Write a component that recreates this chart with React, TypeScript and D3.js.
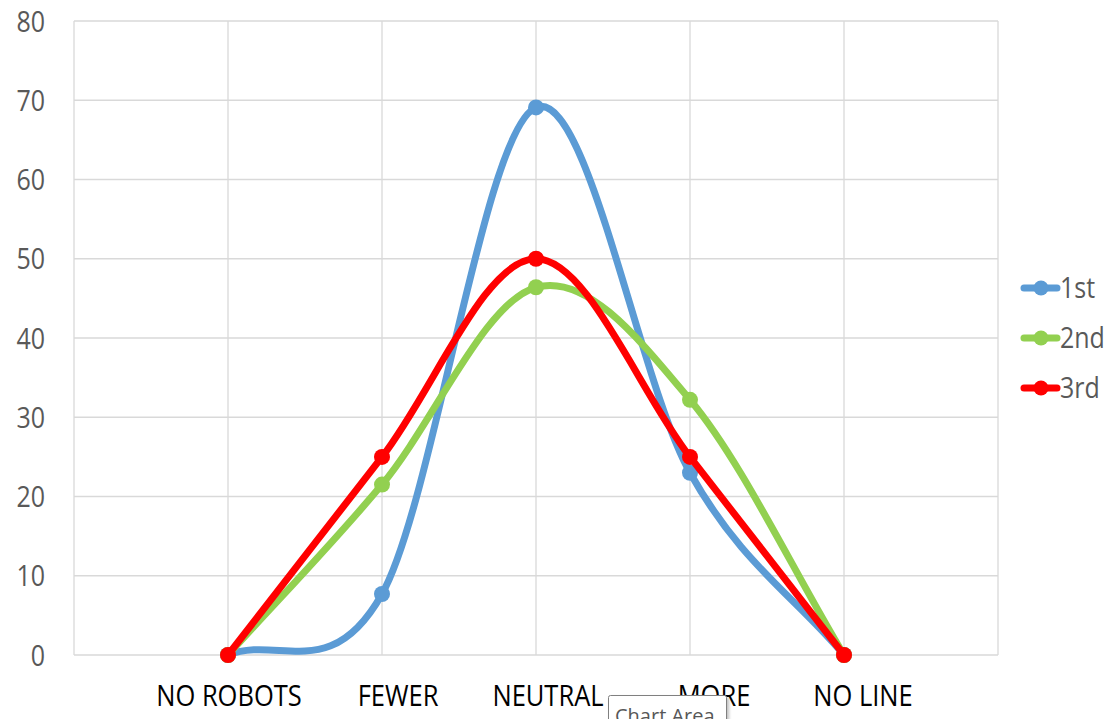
import React from "react";
import * as d3 from "d3";

const categories = ["NO ROBOTS", "FEWER", "NEUTRAL", "MORE", "NO LINE"];
const seriesNames = ["1st", "2nd", "3rd"];
const first = [0, 7.7, 69.1, 23.0, 0];
const second = [0, 21.5, 46.4, 32.2, 0];
const third = [0, 25, 50, 25, 0];
const yTicks = [0, 10, 20, 30, 40, 50, 60, 70, 80];

const colors = ["#5B9BD5", "#92D050", "#FF0000"];
// Excel left the category labels a little off their ticks
const labelNudge = [1, 16, 12, 24, 19];

const width = 1112;
const height = 719;
const margin = { left: 74, right: 114, top: 21, bottom: 64 };

// Excel-style smoothed line: interior tangents (p[i+1]-p[i-1])/6,
// end points get a reflected phantom point, so (p1-p0)/3
function smoothPath(pts: [number, number][]): string {
  const p = d3.path();
  const n = pts.length;
  const at = (i: number): [number, number] => {
    if (i < 0) return [2 * pts[0][0] - pts[1][0], 2 * pts[0][1] - pts[1][1]];
    if (i >= n)
      return [2 * pts[n - 1][0] - pts[n - 2][0], 2 * pts[n - 1][1] - pts[n - 2][1]];
    return pts[i];
  };
  p.moveTo(pts[0][0], pts[0][1]);
  for (let i = 0; i < n - 1; i++) {
    const a = at(i - 1), b = at(i), c = at(i + 1), d = at(i + 2);
    p.bezierCurveTo(
      b[0] + (c[0] - a[0]) / 6,
      b[1] + (c[1] - a[1]) / 6,
      c[0] - (d[0] - b[0]) / 6,
      c[1] - (d[1] - b[1]) / 6,
      c[0],
      c[1]
    );
  }
  return p.toString();
}

const App: React.FC = () => {
  const series = [first, second, third];

  // one empty slot on each side of the categories, labels on tick marks
  const x = d3
    .scaleLinear()
    .domain([-1, categories.length])
    .range([margin.left, width - margin.right]);
  const y = d3
    .scaleLinear()
    .domain([0, 80])
    .range([height - margin.bottom, margin.top]);

  const vLines = d3.range(-1, categories.length + 1);
  const font = "'Open Sans', sans-serif";

  return (
    <svg
      width={width}
      height={height}
      style={{ position: "absolute", left: 0, top: 0, background: "#fff" }}
      fontFamily={font}
    >
      <defs>
        <filter id="tipShadow" x="-10%" y="-20%" width="130%" height="160%">
          <feDropShadow dx="2" dy="2" stdDeviation="1.5" floodColor="#000" floodOpacity="0.25" />
        </filter>
      </defs>

      <g stroke="#d9d9d9" strokeWidth={1.3}>
        {yTicks.map((t) => (
          <line key={t} x1={x(-1)} x2={x(categories.length)} y1={y(t)} y2={y(t)} />
        ))}
        {vLines.map((v) => (
          <line key={v} x1={x(v)} x2={x(v)} y1={y(0)} y2={y(80)} />
        ))}
      </g>

      <g fill="#595959" fontSize={25} textAnchor="end">
        {yTicks.map((t) => (
          <text
            key={t}
            transform={`translate(45,${y(t)}) scale(1,1.17)`}
            dy="0.36em"
          >
            {t}
          </text>
        ))}
      </g>

      <g fill="#000" fontSize={25} textAnchor="middle">
        {categories.map((c, i) => (
          <text
            key={c}
            transform={`translate(${x(i) + labelNudge[i]},706) scale(1.02,1.15)`}
          >
            {c}
          </text>
        ))}
      </g>

      {series.map((s, k) => (
        <g key={seriesNames[k]}>
          <path
            d={smoothPath(s.map((v, i) => [x(i), y(v)]))}
            fill="none"
            stroke={colors[k]}
            strokeWidth={7}
            strokeLinecap="round"
          />
          {s.map((v, i) => (
            <circle key={i} cx={x(i)} cy={y(v)} r={8} fill={colors[k]} />
          ))}
        </g>
      ))}

      <g fontSize={25} fill="#595959">
        {seriesNames.map((n, k) => {
          const ly = 288 + k * 50;
          return (
            <g key={n}>
              <line
                x1={1024}
                x2={1057}
                y1={ly}
                y2={ly}
                stroke={colors[k]}
                strokeWidth={7}
                strokeLinecap="round"
              />
              <circle cx={1041} cy={ly} r={7.5} fill={colors[k]} />
              <text transform={`translate(1060,${ly}) scale(1,1.15)`} dy="0.36em">
                {n}
              </text>
            </g>
          );
        })}
      </g>

      <g>
        <rect
          x={608.5}
          y={695.5}
          width={118}
          height={34}
          rx={2}
          fill="#fff"
          stroke="#808080"
          strokeWidth={1}
          filter="url(#tipShadow)"
        />
        <text x={615} y={723} fontSize={20} fill="#575757">
          Chart Area
        </text>
      </g>
    </svg>
  );
};

export default App;
